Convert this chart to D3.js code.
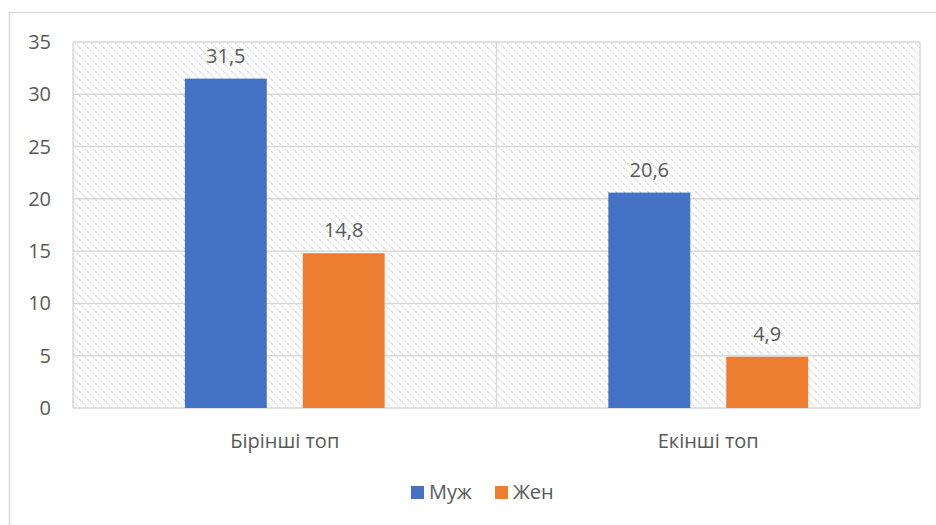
<!DOCTYPE html>
<html>
<head>
<meta charset="utf-8">
<script src="https://cdn.jsdelivr.net/npm/d3@7"></script>
<style>
  body { margin: 0; background: #fff; }
  text { font-family: "Open Sans", sans-serif; fill: #595959; }
</style>
</head>
<body>
<svg id="chart" width="936" height="525"></svg>
<script>
  // chart data
  var categories = ["Бірінші топ", "Екінші топ"];
  var seriesNames = ["Муж", "Жен"];
  var seriesColors = ["#4472C4", "#ED7D31"];
  var male = [31.5, 20.6];
  var female = [14.8, 4.9];
  var yTicks = [0, 5, 10, 15, 20, 25, 30, 35];

  var svg = d3.select("#chart");

  // plot area
  var plotLeft = 73, plotRight = 920, plotTop = 42, plotBottom = 408;
  var fontSize = 20;

  // hatch pattern for the plot background
  var defs = svg.append("defs");
  var pat = defs.append("pattern")
    .attr("id", "hatch")
    .attr("patternUnits", "userSpaceOnUse")
    .attr("width", 8)
    .attr("height", 8);
  pat.append("path")
    .attr("d", "M-2,-2 L10,10 M-2,6 L2,10 M6,-2 L10,2")
    .attr("stroke", "#cfcfcf")
    .attr("stroke-width", 1.2)
    .attr("stroke-dasharray", "1.5,1");

  // outer chart border
  svg.append("rect")
    .attr("x", 9.5).attr("y", 12.5)
    .attr("width", 940).attr("height", 530)
    .attr("fill", "none")
    .attr("stroke", "#d9d9d9")
    .attr("stroke-width", 1.5);

  var x0 = d3.scaleBand()
    .domain(categories)
    .range([plotLeft, plotRight])
    .padding(0);

  var x1 = d3.scaleBand()
    .domain(seriesNames)
    .range([0, x0.bandwidth()])
    .paddingInner(0.305)
    .paddingOuter(0.949);

  var y = d3.scaleLinear()
    .domain([0, 35])
    .range([plotBottom, plotTop]);

  // background
  svg.append("rect")
    .attr("x", plotLeft).attr("y", plotTop)
    .attr("width", plotRight - plotLeft).attr("height", plotBottom - plotTop)
    .attr("fill", "url(#hatch)");

  // horizontal gridlines
  svg.append("g")
    .selectAll("line")
    .data(yTicks)
    .join("line")
    .attr("x1", plotLeft).attr("x2", plotRight)
    .attr("y1", d => y(d)).attr("y2", d => y(d))
    .attr("stroke", "#d9d9d9")
    .attr("stroke-width", 1.5);

  // vertical lines between categories
  svg.append("g")
    .selectAll("line")
    .data([0, 1, 2])
    .join("line")
    .attr("x1", d => plotLeft + d * x0.bandwidth())
    .attr("x2", d => plotLeft + d * x0.bandwidth())
    .attr("y1", plotTop).attr("y2", plotBottom)
    .attr("stroke", "#d9d9d9")
    .attr("stroke-width", 1.5);

  // y tick labels
  svg.append("g")
    .selectAll("text")
    .data(yTicks)
    .join("text")
    .attr("x", 51)
    .attr("y", d => y(d))
    .attr("dy", "0.35em")
    .attr("text-anchor", "end")
    .attr("font-size", fontSize)
    .text(d => d);

  // bars
  var rows = categories.map((c, i) => ({cat: c, values: [male[i], female[i]]}));

  var groups = svg.append("g")
    .selectAll("g")
    .data(rows)
    .join("g")
    .attr("transform", d => "translate(" + x0(d.cat) + ",0)");

  groups.selectAll("rect")
    .data(d => d.values.map((v, j) => ({name: seriesNames[j], value: v, color: seriesColors[j]})))
    .join("rect")
    .attr("x", d => x1(d.name))
    .attr("y", d => y(d.value))
    .attr("width", x1.bandwidth())
    .attr("height", d => y(0) - y(d.value))
    .attr("fill", d => d.color);

  // data labels
  groups.selectAll("text")
    .data(d => d.values.map((v, j) => ({name: seriesNames[j], value: v})))
    .join("text")
    .attr("x", d => x1(d.name) + x1.bandwidth() / 2)
    .attr("y", d => y(d.value) - 16)
    .attr("text-anchor", "middle")
    .attr("font-size", fontSize)
    .text(d => String(d.value).replace(".", ","));

  // category labels
  svg.append("g")
    .selectAll("text")
    .data(categories)
    .join("text")
    .attr("x", d => x0(d) + x0.bandwidth() / 2)
    .attr("y", 448)
    .attr("text-anchor", "middle")
    .attr("font-size", fontSize)
    .text(d => d);

  // legend
  var legendX = [411, 495];
  var legend = svg.append("g")
    .selectAll("g")
    .data(seriesNames)
    .join("g")
    .attr("transform", (d, i) => "translate(" + legendX[i] + ",486)");

  legend.append("rect")
    .attr("width", 13).attr("height", 13)
    .attr("fill", (d, i) => seriesColors[i]);

  legend.append("text")
    .attr("x", 18)
    .attr("y", 13)
    .attr("font-size", fontSize)
    .text(d => d);
</script>
</body>
</html>
